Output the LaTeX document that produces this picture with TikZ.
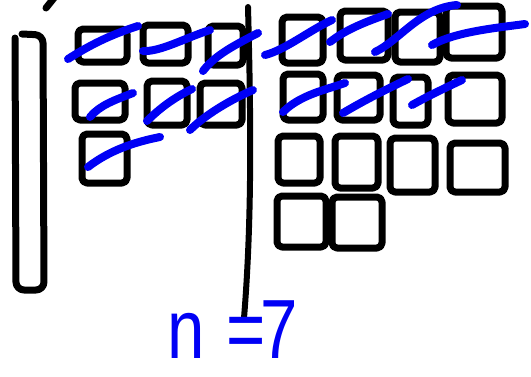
\documentclass[tikz,border=0pt]{standalone}
\usepackage{fontspec}
\setmainfont{Liberation Sans}
\definecolor{pen}{RGB}{0,0,245}
\tikzset{
  ink/.style={line width=7pt, line cap=round, line join=round, black},
  sqbox/.style={ink, rounded corners=5pt},
  cross/.style={line width=8pt, line cap=round, pen},
  label/.style={text=pen, inner sep=0pt, font=\fontsize{84}{84}\selectfont}
}
\begin{document}
\begin{tikzpicture}[x=1pt,y=-1pt]
\useasboundingbox (0,0) rectangle (531,376);
% left tall bar
\draw[sqbox, rounded corners=8pt] (15,38) -- (16,290) -- (44,290) -- (43,35) -- (22,34);
% top tick
\draw[ink] (46,8) -- (54,-2);
% divider
\draw[ink, line width=6pt] (248,7) .. controls (251,120) and (252,220) .. (244,318);
% left squares
\draw[sqbox] (78,29) rectangle (127,62);
\draw[sqbox] (143,25) rectangle (188,63);
\draw[sqbox] (208,26) rectangle (243,65);
\draw[sqbox] (75,83) rectangle (125,120);
\draw[sqbox] (147,81) rectangle (187,125);
\draw[sqbox] (200,83) rectangle (242,125);
\draw[sqbox] (82,134) rectangle (127,183);
% right squares
\draw[sqbox] (282,17) rectangle (323,63);
\draw[sqbox] (340,11) rectangle (388,60);
\draw[sqbox] (395,12) rectangle (440,62);
\draw[sqbox] (446,6) rectangle (502,58);
\draw[sqbox] (283,74) rectangle (323,120);
\draw[sqbox] (337,75) rectangle (380,120);
\draw[sqbox] (393,77) rectangle (428,125);
\draw[sqbox] (448,75) rectangle (502,123);
\draw[sqbox] (278,136) rectangle (320,183);
\draw[sqbox] (335,136) rectangle (378,188);
\draw[sqbox] (390,138) rectangle (435,192);
\draw[sqbox] (450,143) rectangle (505,192);
\draw[sqbox] (277,196) rectangle (326,247);
\draw[sqbox] (332,197) rectangle (382,248);
% blue crossings, left
\draw[cross] (68,59) .. controls (90,45) and (110,35) .. (138,26);
\draw[cross] (143,51) .. controls (160,52) and (185,38) .. (210,30);
\draw[cross] (203,71) .. controls (215,55) and (235,45) .. (258,33);
\draw[cross] (90,117) .. controls (100,105) and (115,100) .. (133,93);
\draw[cross] (147,121) .. controls (160,108) and (175,97) .. (192,89);
\draw[cross] (190,130) .. controls (205,115) and (230,100) .. (253,90);
\draw[cross] (88,167) .. controls (110,150) and (135,142) .. (160,137);
% blue crossings, right
\draw[cross] (265,55) .. controls (285,50) and (310,30) .. (332,20);
\draw[cross] (330,42) .. controls (345,30) and (365,22) .. (388,14);
\draw[cross] (375,52) .. controls (400,40) and (420,8) .. (457,5);
\draw[cross] (432,45) .. controls (455,32) and (495,28) .. (525,24);
\draw[cross] (283,112) .. controls (300,95) and (325,90) .. (345,83);
\draw[cross] (343,113) .. controls (365,100) and (385,90) .. (408,79);
\draw[cross] (412,105) .. controls (430,95) and (445,88) .. (462,80);
% label
\node[label, anchor=base west, xscale=0.8] (n) at (167,358) {n\hspace{4pt} =\hspace{-7pt}7};
\end{tikzpicture}
\end{document}
